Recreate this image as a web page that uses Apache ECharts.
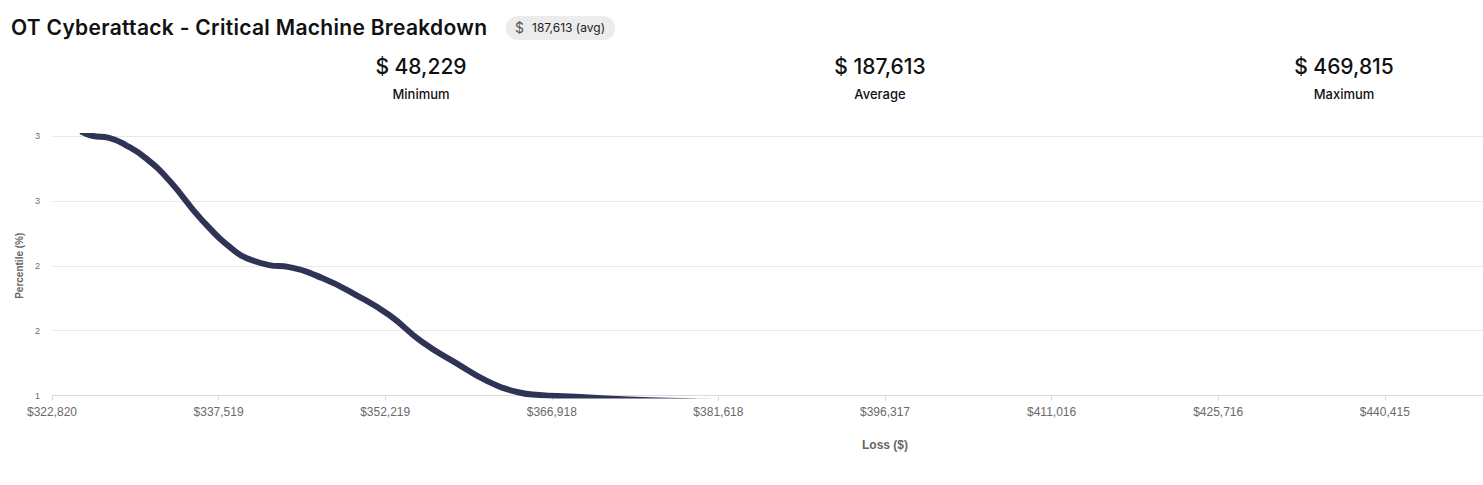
<!DOCTYPE html>
<html>
<head>
<meta charset="utf-8">
<script src="https://cdn.jsdelivr.net/npm/echarts@6/dist/echarts.min.js"></script>
<style>
    html, body { margin: 0; padding: 0; background: #fff; overflow: hidden; }
    #page { position: relative; width: 1483px; height: 485px; overflow: hidden; font-family: Inter, "Noto Sans", sans-serif; color: #111; }
    #main { position: absolute; left: 0; top: 0; width: 1760px; height: 485px; }
    .title { position: absolute; left: 11px; top: 15px; font-size: 21px; font-weight: 600; letter-spacing: 0.3px; line-height: 26px; white-space: nowrap; }
    .badge { position: absolute; left: 506px; top: 16px; width: 109px; height: 24px; border-radius: 12px; background: #ececec; font-size: 12px; line-height: 24px; white-space: nowrap; }
    .badge .cur { position: absolute; left: 9px; font-size: 14px; color: #555; }
    .badge .num { position: absolute; left: 26px; color: #222; }
    .stat { position: absolute; top: 52px; transform: translateX(-50%); text-align: center; white-space: nowrap; }
    .stat .val { font-size: 21px; font-weight: 500; line-height: 30px; }
    .stat .lbl { font-size: 13px; font-weight: 500; line-height: 18px; margin-top: 3px; }
</style>
</head>
<body>
<div id="page">
    <div id="main"></div>
    <div class="title">OT Cyberattack - Critical Machine Breakdown</div>
    <div class="badge"><span class="cur">$</span><span class="num">187,613 (avg)</span></div>
    <div id="stats"></div>
</div>
<script>
// summary numbers shown above the chart
const statLabels = ['Minimum', 'Average', 'Maximum'];
const statValues = [48229, 187613, 469815];
const statCenters = [421, 880, 1344];

// loss curve
const lossValues = [325380, 326351, 327852, 329353, 331119, 333149, 336063, 339064, 340477, 341978,
    343744, 346657, 349659, 352572, 355485, 358487, 361224, 364050, 365815, 368464,
    373760, 379676, 381265];
const percentileValues = [3.036, 3.002, 2.986, 2.928, 2.828, 2.659, 2.351, 2.105, 2.043, 2.005,
    1.989, 1.905, 1.774, 1.620, 1.412, 1.250, 1.111, 1.023, 1.004, 0.992,
    0.969, 0.954, 0.950];

// x axis: visible tick labels, axis runs on to the maximum loss past the page edge
const lossTicks = [322820, 337519, 352219, 366918, 381618, 396317, 411016, 425716, 440415];
const lossAxisMax = 469815;

function fmt(n) {
    return n.toLocaleString('en-US');
}

let statsHtml = '';
statLabels.forEach(function (lbl, i) {
    statsHtml += '<div class="stat" style="left:' + statCenters[i] + 'px"><div class="val">$ ' + fmt(statValues[i]) +
        '</div><div class="lbl">' + lbl + '</div></div>';
});
document.getElementById('stats').innerHTML = statsHtml;

const data = lossValues.map(function (x, i) { return [x, percentileValues[i]]; });

var myChart = echarts.init(document.getElementById('main'), null, { renderer: 'svg' });

var option = {
    animation: false,
    grid: { left: 52, top: 136, width: 1666, height: 259.5, outerBoundsMode: 'none', containLabel: false },
    xAxis: {
        type: 'value',
        min: lossTicks[0],
        max: lossAxisMax,
        name: 'Loss ($)',
        nameLocation: 'middle',
        nameGap: 43,
        nameTextStyle: { fontFamily: 'Liberation Sans', fontSize: 12, fontWeight: 'bold', color: '#666' },
        axisLine: { lineStyle: { color: '#dcdcdc' } },
        axisTick: { show: true, length: 5, lineStyle: { color: '#dcdcdc' }, customValues: lossTicks },
        axisLabel: {
            customValues: lossTicks,
            margin: 10,
            fontFamily: 'Liberation Sans',
            fontSize: 12,
            color: '#6a6a6a',
            formatter: function (v) { return '$' + fmt(v); }
        },
        splitLine: { show: false }
    },
    yAxis: {
        type: 'value',
        min: 1,
        max: 3,
        interval: 0.5,
        name: 'Percentile (%)',
        nameLocation: 'middle',
        nameGap: 28,
        nameTextStyle: { fontFamily: 'Liberation Sans', fontSize: 10, fontWeight: 'bold', color: '#666' },
        axisLine: { show: false },
        axisTick: { show: false },
        axisLabel: {
            margin: 12,
            fontFamily: 'Liberation Sans',
            fontSize: 9,
            color: '#6a6a6a',
            formatter: function (v) { return v.toFixed(0); }
        },
        splitLine: { lineStyle: { color: '#e8e8e8' } }
    },
    series: [
        {
            type: 'line',
            data: data,
            smooth: true,
            symbol: 'none',
            lineStyle: { color: '#2f3457', width: 6 }
        }
    ]
};

myChart.setOption(option);
</script>
</body>
</html>
